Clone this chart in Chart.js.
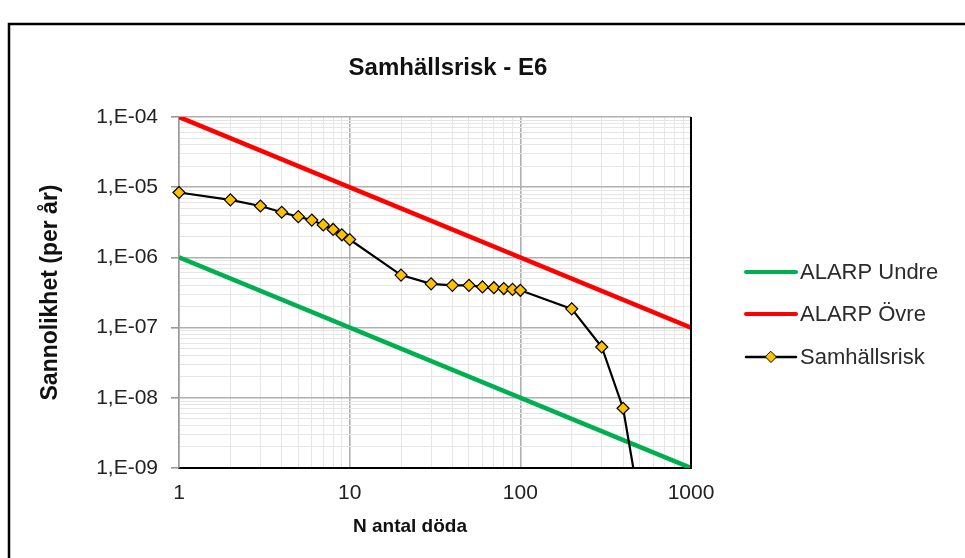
<!DOCTYPE html>
<html><head><meta charset="utf-8">
<script src="https://cdn.jsdelivr.net/npm/chart.js@4.4.1/dist/chart.umd.min.js"></script>
<style>html,body{margin:0;padding:0;background:#fff}#wrap{width:965px;height:558px;position:relative}</style>
</head><body><div id="wrap"><canvas id="c"></canvas></div>
<script>
const chartTitle = 'Samhällsrisk - E6';
const xTitle = 'N antal döda';
const yTitle = 'Sannolikhet (per år)';
const seriesNames = ['Samhällsrisk', 'ALARP Undre', 'ALARP Övre'];
const riskN = [1, 2, 3, 4, 5, 6, 7, 8, 9, 10, 20, 30, 40, 50, 60, 70, 80, 90, 100, 200, 300, 400, 500];
const riskP = [8.4e-6, 6.6e-6, 5.4e-6, 4.4e-6, 3.8e-6, 3.4e-6, 2.9e-6, 2.5e-6, 2.1e-6, 1.8e-6,
               5.6e-7, 4.2e-7, 4.0e-7, 4.0e-7, 3.8e-7, 3.7e-7, 3.6e-7, 3.5e-7, 3.4e-7,
               1.85e-7, 5.3e-8, 7.1e-9, 3.0e-10];
const alarpN = [1, 1000];
const undreP = [1e-6, 1e-9];
const ovreP = [1e-4, 1e-7];
const xTickValues = [1, 10, 100, 1000];
const xTickLabels = ['1', '10', '100', '1000'];
const yTickValues = [1e-9, 1e-8, 1e-7, 1e-6, 1e-5, 1e-4];
const yTickLabels = ['1,E-09', '1,E-08', '1,E-07', '1,E-06', '1,E-05', '1,E-04'];

function logTicks(decades, labels) {
  const out = [];
  decades.forEach((d, i) => {
    out.push({ value: d, isMajor: true, lbl: labels[i] });
    if (i < decades.length - 1) {
      for (let m = 2; m <= 9; m++) out.push({ value: Number((d * m).toPrecision(4)), isMajor: false, lbl: '' });
    }
  });
  return out;
}

const colors = { undre: '#00B050', ovre: '#FF0000', risk: '#000000', marker: '#FFC000' };
const LBL_FONT = 'Liberation Sans, Arial, sans-serif';

const extras = {
  id: 'extras',
  afterDraw(chart) {
    const ctx = chart.ctx, a = chart.chartArea;
    ctx.save();
    // right plot border
    ctx.strokeStyle = '#000'; ctx.lineWidth = 2;
    ctx.beginPath(); ctx.moveTo(a.right, a.top); ctx.lineTo(a.right, a.bottom + 1); ctx.stroke();
    // title
    ctx.fillStyle = '#111';
    ctx.textAlign = 'center'; ctx.textBaseline = 'middle';
    ctx.font = 'bold 24px ' + LBL_FONT;
    ctx.fillText(chartTitle, 448, 68);
    ctx.font = 'bold 19px ' + LBL_FONT;
    ctx.fillText(xTitle, 410, 527);
    // legend
    const items = [
      { name: seriesNames[1], color: colors.undre, w: 4, y: 272, marker: false },
      { name: seriesNames[2], color: colors.ovre, w: 4, y: 314, marker: false },
      { name: seriesNames[0], color: colors.risk, w: 2.5, y: 357, marker: true }
    ];
    ctx.textAlign = 'left';
    ctx.font = '22px ' + LBL_FONT;
    items.forEach(it => {
      ctx.strokeStyle = it.color; ctx.lineWidth = it.w; ctx.lineCap = 'round';
      ctx.beginPath(); ctx.moveTo(746, it.y); ctx.lineTo(796, it.y); ctx.stroke();
      if (it.marker) {
        ctx.fillStyle = colors.marker; ctx.strokeStyle = '#000'; ctx.lineWidth = 1;
        ctx.beginPath(); ctx.moveTo(771, it.y - 5.5); ctx.lineTo(776.5, it.y); ctx.lineTo(771, it.y + 5.5); ctx.lineTo(765.5, it.y); ctx.closePath();
        ctx.fill(); ctx.stroke();
      }
      ctx.fillStyle = '#2b2b2b';
      ctx.fillText(it.name, 800, it.y + 1);
    });
    // outer frame
    ctx.strokeStyle = '#000'; ctx.lineWidth = 2.5; ctx.lineCap = 'butt';
    ctx.beginPath(); ctx.moveTo(9, 600); ctx.lineTo(9, 24); ctx.lineTo(1000, 24); ctx.stroke();
    ctx.restore();
  }
};

const gridColor = c => (c.tick && c.tick.isMajor) ? '#b0b0b0' : '#e6e6e6';
const gridWidth = c => (c.tick && c.tick.isMajor) ? 1.6 : 1;

new Chart(document.getElementById('c'), {
  type: 'line',
  data: {
    datasets: [
      {
        label: seriesNames[0],
        data: riskN.map((n, i) => ({ x: n, y: riskP[i] })),
        borderColor: colors.risk, borderWidth: 2.2,
        pointStyle: 'rectRot', pointRadius: 6, pointBackgroundColor: colors.marker,
        pointBorderColor: '#000', pointBorderWidth: 1.2, order: 0,
        clip: { left: 10, top: 8, right: 8, bottom: 0 }
      },
      {
        label: seriesNames[1],
        data: alarpN.map((n, i) => ({ x: n, y: undreP[i] })),
        borderColor: colors.undre, borderWidth: 4.5, pointRadius: 0, order: 1
      },
      {
        label: seriesNames[2],
        data: alarpN.map((n, i) => ({ x: n, y: ovreP[i] })),
        borderColor: colors.ovre, borderWidth: 4.5, pointRadius: 0, order: 2
      }
    ]
  },
  options: {
    responsive: true, maintainAspectRatio: false, animation: false,
    layout: { padding: { top: 117, right: 274, bottom: 0, left: 0 } },
    plugins: { legend: { display: false }, tooltip: { enabled: false }, title: { display: false } },
    scales: {
      x: {
        type: 'logarithmic', min: 1, max: 1000,
        afterBuildTicks: s => { s.ticks = logTicks(xTickValues, xTickLabels); },
        afterFit: s => { s.height = 90; },
        ticks: {
          autoSkip: false, maxRotation: 0, padding: 13, color: '#222',
          font: { family: LBL_FONT, size: 21 },
          callback: (v, i, t) => t[i].lbl
        },
        grid: { color: gridColor, lineWidth: gridWidth, drawTicks: false },
        border: { display: true, color: '#000', width: 2 }
      },
      y: {
        type: 'logarithmic', min: 1e-9, max: 1e-4,
        afterBuildTicks: s => { s.ticks = logTicks(yTickValues, yTickLabels); },
        afterFit: s => { s.width = 179; },
        ticks: {
          autoSkip: false, padding: 13, color: '#222',
          font: { family: LBL_FONT, size: 21 },
          callback: (v, i, t) => t[i].lbl
        },
        grid: {
          color: gridColor, lineWidth: gridWidth, tickLength: 8,
          tickColor: c => (c.tick && c.tick.isMajor) ? '#999' : 'rgba(0,0,0,0)'
        },
        border: { display: true, color: '#999', width: 1.5 },
        title: {
          display: true, text: yTitle, color: '#111',
          font: { family: LBL_FONT, size: 23, weight: 'bold' },
          padding: { top: 37, bottom: 0 }
        }
      }
    }
  },
  plugins: [extras]
});
</script>
</body></html>
